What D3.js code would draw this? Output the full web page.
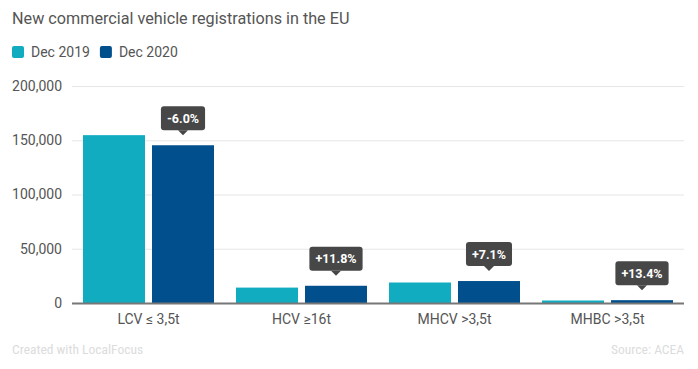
<!DOCTYPE html>
<html><head><meta charset="utf-8">
<script src="https://cdn.jsdelivr.net/npm/d3@7"></script>
<style>
body{margin:0;background:#fff;font-family:Roboto,"Noto Sans",sans-serif;}
svg{display:block;}
</style></head>
<body>
<svg id="c" width="698" height="369"></svg>
<script>
const categories = ["LCV ≤ 3,5t", "HCV ≥16t", "MHCV >3,5t", "MHBC >3,5t"];
const seriesNames = ["Dec 2019", "Dec 2020"];
const dec2019 = [154700, 14200, 18900, 2300];
const dec2020 = [145400, 15880, 20240, 2610];
const changeLabels = ["-6.0%", "+11.8%", "+7.1%", "+13.4%"];
const yTicks = [0, 50000, 100000, 150000, 200000];
const colors = ["#12acc0", "#024f8d"];

(function () {
const svg = d3.select("#c");
const mLeft = 72, mRight = 684, mTop = 86, mBottom = 303;

const x = d3.scaleBand().domain(categories).range([mLeft, mRight]).paddingInner(0.1438).paddingOuter(0.0719);
const xs = d3.scaleBand().domain(seriesNames).range([0, x.bandwidth()]).paddingInner(0.1014).paddingOuter(0);
const y = d3.scaleLinear().domain([0, 200000]).range([mBottom, mTop]);

svg.append("text").attr("x", 12).attr("y", 24).attr("font-size", 16.2).attr("fill", "#555")
  .text("New commercial vehicle registrations in the EU");

const lg = svg.append("g");
let lx = 12;
seriesNames.forEach((s, i) => {
  lg.append("rect").attr("x", lx).attr("y", 46).attr("width", 12).attr("height", 12).attr("rx", 2).attr("fill", colors[i]);
  const t = lg.append("text").attr("x", lx + 19).attr("y", 57).attr("font-size", 14).attr("fill", "#555").text(s);
  lx += 19 + t.node().getComputedTextLength() + 10;
});

const yAxis = d3.axisLeft(y).tickValues(yTicks).tickSize(-(mRight - mLeft)).tickFormat(d3.format(","));
const ga = svg.append("g").attr("transform", `translate(${mLeft},0)`).call(yAxis);
ga.select(".domain").remove();
ga.selectAll(".tick line").attr("stroke", "#e6e6e6").attr("stroke-width", 1);
ga.selectAll(".tick text").attr("x", -10).attr("font-size", 14).attr("fill", "#555").attr("font-family", "Roboto,sans-serif");

const data = categories.map((c, i) => ({c, vals: [dec2019[i], dec2020[i]], label: changeLabels[i]}));
const g = svg.append("g");
data.forEach(d => {
  d.vals.forEach((v, j) => {
    g.append("rect").attr("x", x(d.c) + xs(seriesNames[j])).attr("y", y(v))
      .attr("width", xs.bandwidth()).attr("height", y(0) - y(v)).attr("fill", colors[j]);
  });
});

svg.append("line").attr("x1", mLeft).attr("x2", mRight).attr("y1", mBottom + 0.5).attr("y2", mBottom + 0.5)
  .attr("stroke", "#777").attr("stroke-width", 2);

const xAxis = d3.axisBottom(x).tickSize(0);
const gx = svg.append("g").attr("transform", `translate(0,${mBottom})`).call(xAxis);
gx.select(".domain").remove();
gx.selectAll(".tick text").attr("y", 11).attr("dy", "0.71em").attr("font-size", 14).attr("fill", "#555").attr("font-family", "Roboto,sans-serif");

data.forEach(d => {
  const cx = x(d.c) + xs(seriesNames[1]) + xs.bandwidth() / 2;
  const barTop = y(d.vals[1]);
  const boxBottom = barTop - 15;
  const lab = svg.append("g");
  const t = lab.append("text").attr("x", cx).attr("y", boxBottom - 7.5).attr("text-anchor", "middle")
    .attr("font-size", 12.5).attr("font-weight", "bold").attr("fill", "#fff").text(d.label);
  const w = t.node().getComputedTextLength() + 12;
  lab.insert("rect", "text").attr("x", cx - w / 2).attr("y", boxBottom - 24).attr("width", w).attr("height", 24)
    .attr("rx", 3).attr("fill", "#474747");
  lab.insert("path", "text").attr("d", `M${cx - 5},${boxBottom} L${cx},${boxBottom + 5} L${cx + 5},${boxBottom} Z`).attr("fill", "#474747");
});

svg.append("text").attr("x", 12).attr("y", 354).attr("font-size", 13.5).attr("fill", "#dcdcdc")
  .attr("font-family", "'Roboto Condensed',Roboto,sans-serif").text("Created with LocalFocus");
svg.append("text").attr("x", 684).attr("y", 354).attr("font-size", 13.5).attr("fill", "#dcdcdc").attr("text-anchor", "end")
  .attr("font-family", "'Roboto Condensed',Roboto,sans-serif").text("Source: ACEA");
})();
</script>
</body></html>
